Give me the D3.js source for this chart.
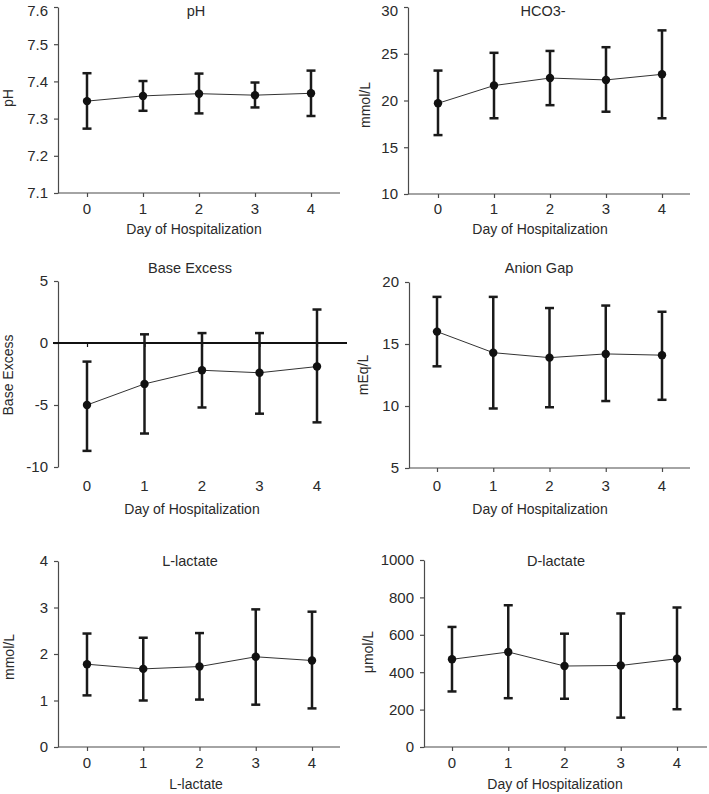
<!DOCTYPE html>
<html><head><meta charset="utf-8">
<script src="https://cdn.jsdelivr.net/npm/d3@7"></script>
<style>
body{margin:0;background:#fff}
svg{display:block}
text{font-family:"Liberation Sans",Arial,Helvetica,sans-serif;fill:#2a2a2a}
</style>
</head><body>
<svg id="chart" width="709" height="794"></svg>
<script>
// ---------- data ----------
const days = [0, 1, 2, 3, 4];

const phMean = [7.347, 7.361, 7.367, 7.363, 7.368];
const phLow  = [7.273, 7.321, 7.314, 7.330, 7.307];
const phHigh = [7.422, 7.401, 7.421, 7.397, 7.429];
const phTicks = [7.1, 7.2, 7.3, 7.4, 7.5, 7.6];

const hco3Mean = [19.7, 21.6, 22.4, 22.2, 22.8];
const hco3Low  = [16.3, 18.1, 19.5, 18.8, 18.1];
const hco3High = [23.2, 25.1, 25.3, 25.7, 27.5];
const hco3Ticks = [10, 15, 20, 25, 30];

const beMean = [-5.0, -3.3, -2.2, -2.4, -1.9];
const beLow  = [-8.7, -7.3, -5.2, -5.7, -6.4];
const beHigh = [-1.5, 0.7, 0.8, 0.8, 2.7];
const beTicks = [-10, -5, 0, 5];

const agMean = [16.0, 14.3, 13.9, 14.2, 14.1];
const agLow  = [13.2, 9.8, 9.9, 10.4, 10.5];
const agHigh = [18.8, 18.8, 17.9, 18.1, 17.6];
const agTicks = [5, 10, 15, 20];

const llMean = [1.78, 1.68, 1.73, 1.94, 1.86];
const llLow  = [1.11, 1.00, 1.02, 0.91, 0.83];
const llHigh = [2.44, 2.35, 2.45, 2.96, 2.91];
const llTicks = [0, 1, 2, 3, 4];

const dlMean = [469, 508, 433, 436, 472];
const dlLow  = [297, 261, 258, 157, 202];
const dlHigh = [642, 758, 606, 714, 746];
const dlTicks = [0, 200, 400, 600, 800, 1000];

const titles = ["pH", "HCO3-", "Base Excess", "Anion Gap", "L-lactate", "D-lactate"];
const yLabels = ["pH", "mmol/L", "Base Excess", "mEq/L", "mmol/L", "\u03bcmol/L"];
const xLabels = ["Day of Hospitalization", "Day of Hospitalization", "Day of Hospitalization",
                 "Day of Hospitalization", "L-lactate", "Day of Hospitalization"];

// ---------- layout ----------
const panels = [
  {mean: phMean, low: phLow, high: phHigh, ticks: phTicks, fmt: d3.format(".1f"),
   L: {left:58, right:340, top:7, bottom:193, x0:87, x4:311, tickTop:203, xlY:234, xlX:194, tX:196, tY:16, ylX:13, ylY:98}},
  {mean: hco3Mean, low: hco3Low, high: hco3High, ticks: hco3Ticks, fmt: d => String(d),
   L: {left:408, right:690, top:7, bottom:194, x0:438, x4:662, tickTop:203, xlY:234, xlX:540, tX:543, tY:16, ylX:370, ylY:105}},
  {mean: beMean, low: beLow, high: beHigh, ticks: beTicks, fmt: d => String(d), zeroAxis: true,
   L: {left:58, right:347, top:281, bottom:467, x0:87, x4:317, tickTop:480, xlY:514, xlX:192, tX:190, tY:273, ylX:13, ylY:375}},
  {mean: agMean, low: agLow, high: agHigh, ticks: agTicks, fmt: d => String(d),
   L: {left:409, right:690, top:282, bottom:468, x0:437, x4:662, tickTop:480, xlY:514, xlX:540, tX:539, tY:273, ylX:368, ylY:375}},
  {mean: llMean, low: llLow, high: llHigh, ticks: llTicks, fmt: d => String(d),
   L: {left:58, right:340, top:561, bottom:747, x0:87, x4:312, tickTop:757, xlY:789, xlX:196, tX:190, tY:566, ylX:14, ylY:657}},
  {mean: dlMean, low: dlLow, high: dlHigh, ticks: dlTicks, fmt: d => String(d),
   L: {left:424, right:707, top:560, bottom:747, x0:452, x4:677, tickTop:757, xlY:789, xlX:555, tX:556, tY:566, ylX:373, ylY:652}}
];

const svg = d3.select("#chart");
const axisColor = "#4a4a4a";
const barColor = "#1a1a1a";
const tickFont = 15;
const labelFont = 14;
const titleFont = 14.5;

panels.forEach((p, i) => {
  const L = p.L;
  const g = svg.append("g");
  const x = d3.scaleLinear().domain([0, 4]).range([L.x0, L.x4]);
  const yDom = d3.extent(p.ticks);
  const y = d3.scaleLinear().domain(yDom).range([L.bottom, L.top]);

  // y axis
  const ya = g.append("g").attr("transform", `translate(${L.left},0)`)
    .call(d3.axisLeft(y).tickValues(p.ticks).tickSize(4).tickSizeOuter(0).tickPadding(6).tickFormat(p.fmt));
  ya.select(".domain").attr("stroke", axisColor).attr("stroke-width", 1.2);
  ya.selectAll(".tick line").attr("stroke", axisColor).attr("stroke-width", 1.2);
  ya.selectAll(".tick text").attr("font-size", tickFont).attr("fill", "#2a2a2a")
    .attr("dy", d => (y(d) < 12 ? "0.58em" : "0.32em"))
    .style("font-family", '"Liberation Sans",Arial,sans-serif');

  // x axis line (at bottom, or at zero for base excess)
  const axY = p.zeroAxis ? y(0) : L.bottom;
  g.append("line")
    .attr("x1", p.zeroAxis ? L.left - 5 : L.left).attr("x2", L.right)
    .attr("y1", axY).attr("y2", axY)
    .attr("stroke", p.zeroAxis ? "#111" : axisColor)
    .attr("stroke-width", p.zeroAxis ? 2 : 1.2);
  const xa = g.append("g").attr("transform", `translate(0,${axY})`)
    .call(d3.axisBottom(x).tickValues(days).tickSize(4).tickSizeOuter(0).tickFormat(""));
  xa.select(".domain").remove();
  xa.selectAll(".tick line").attr("stroke", p.zeroAxis ? "#111" : axisColor).attr("stroke-width", 1.2);

  // x tick labels
  g.selectAll(".xtl").data(days).enter().append("text")
    .attr("x", d => x(d)).attr("y", L.tickTop).attr("dy", "0.71em")
    .attr("text-anchor", "middle").attr("font-size", tickFont)
    .text(d => d);

  // labels
  g.append("text").attr("x", L.xlX).attr("y", L.xlY).attr("text-anchor", "middle")
    .attr("font-size", labelFont).text(xLabels[i]);
  g.append("text").attr("x", L.tX).attr("y", L.tY).attr("text-anchor", "middle")
    .attr("font-size", titleFont).text(titles[i]);
  g.append("text").attr("transform", `translate(${L.ylX},${L.ylY}) rotate(-90)`)
    .attr("text-anchor", "middle").attr("font-size", labelFont).text(yLabels[i]);

  // connecting line
  const pts = days.map((d, k) => ({d, m: p.mean[k], lo: p.low[k], hi: p.high[k]}));
  g.append("path").datum(pts)
    .attr("d", d3.line().x(v => x(v.d)).y(v => y(v.m)))
    .attr("fill", "none").attr("stroke", "#333").attr("stroke-width", 1);

  // error bars
  const eb = g.selectAll(".eb").data(pts).enter().append("g");
  eb.append("line").attr("x1", v => x(v.d)).attr("x2", v => x(v.d))
    .attr("y1", v => y(v.lo)).attr("y2", v => y(v.hi))
    .attr("stroke", barColor).attr("stroke-width", 2.5);
  ["lo", "hi"].forEach(key => {
    eb.append("line").attr("x1", v => x(v.d) - 4.5).attr("x2", v => x(v.d) + 4.5)
      .attr("y1", v => y(v[key])).attr("y2", v => y(v[key]))
      .attr("stroke", barColor).attr("stroke-width", 2.5);
  });

  // markers
  g.selectAll(".pt").data(pts).enter().append("circle")
    .attr("cx", v => x(v.d)).attr("cy", v => y(v.m)).attr("r", 4.2)
    .attr("fill", "#111");
});
</script>
</body></html>
